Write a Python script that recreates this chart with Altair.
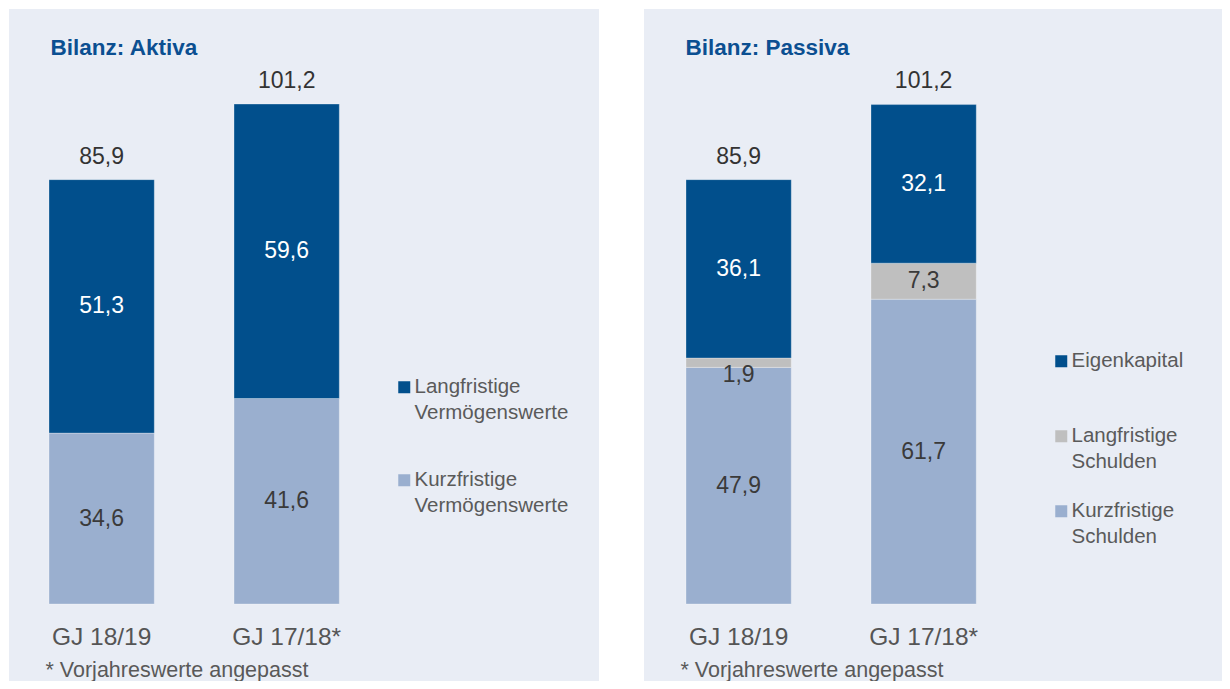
import altair as alt
import pandas as pd

# ---------------- data ----------------
years = ["GJ 18/19", "GJ 17/18*"]

aktiva_series = ["Langfristige Vermögenswerte", "Kurzfristige Vermögenswerte"]
aktiva_lang = [51.3, 59.6]
aktiva_kurz = [34.6, 41.6]
aktiva_total = [85.9, 101.2]

passiva_series = ["Eigenkapital", "Langfristige Schulden", "Kurzfristige Schulden"]
passiva_eigen = [36.1, 32.1]
passiva_lang = [1.9, 7.3]
passiva_kurz = [47.9, 61.7]
passiva_total = [85.9, 101.2]

footnote = "* Vorjahreswerte angepasst"

# ---------------- style ----------------
DARK = "#014f8c"
LIGHT = "#9aafcf"
GREY = "#bfbfbf"
BG = "#e9edf5"
TITLE_C = "#0b4f91"
FONT = "Liberation Sans"
H = 672  # plot height of each panel


def long_table(series, columns):
    rows = []
    n = len(series)
    for si, (name, vals) in enumerate(zip(series, columns)):
        for yr, v in zip(years, vals):
            rows.append({"year": yr, "series": name, "value": v, "stack_idx": n - 1 - si})
    return pd.DataFrame(rows)


def panel(title, series, columns, totals, colors, dark_series, width, pad_outer, align,
          legend_x, legend_y, row_pad):
    df = long_table(series, columns)
    tot = pd.DataFrame({"year": years, "total": totals})

    xscale = alt.Scale(domain=years, paddingInner=0.431, paddingOuter=pad_outer, align=align)
    yscale = alt.Scale(domain=[-15.59, 120.45], nice=False, zero=False)

    x_axis = alt.Axis(title=footnote, orient="bottom", offset=-58,
                      domain=False, ticks=False, grid=False,
                      labelAngle=0, labelPadding=2, labelFontSize=24.5,
                      labelColor="#555555", labelFont=FONT,
                      titleFont=FONT, titleFontSize=21.5, titleFontWeight="normal",
                      titleColor="#595959", titleAnchor="start", titleAlign="left",
                      titleBaseline="alphabetic", titleX=36, titleY=53.5, zindex=1)
    y_axis = alt.Axis(title=title, labels=False, ticks=False, domain=False,
                      grid=False, titleAngle=0, titleX=41, titleY=45.5,
                      titleAlign="left", titleBaseline="alphabetic",
                      titleFont=FONT, titleFontSize=22.5, titleFontWeight="bold",
                      titleColor=TITLE_C, zindex=1)

    base = alt.Chart(df).transform_stack(
        stack="value", groupby=["year"], as_=["y0", "y1"],
        sort=[alt.SortField("stack_idx", order="ascending")],
    ).transform_calculate(
        mid="(datum.y0 + datum.y1) / 2",
        txt="replace(format(datum.value, '.1f'), '.', ',')",
        dark="indexof(" + str(dark_series) + ", datum.series) >= 0",
    )

    bars = base.mark_bar(stroke="white", strokeWidth=0.8, strokeOpacity=0.35).encode(
        x=alt.X("year:N", scale=xscale, sort=years, axis=x_axis),
        y=alt.Y("y0:Q", scale=yscale, axis=y_axis),
        y2="y1:Q",
        color=alt.Color("series:N",
                        scale=alt.Scale(domain=series, range=colors),
                        legend=alt.Legend(orient="none", legendX=legend_x, legendY=legend_y,
                                          title=None, symbolType="square", symbolSize=144,
                                          symbolStrokeWidth=0, labelFontSize=20.5,
                                          labelFont=FONT, labelColor="#5a5a5a",
                                          labelExpr="split(datum.label, ' ')",
                                          labelBaseline="middle", labelOffset=0,
                                          labelLimit=400, rowPadding=row_pad,
                                          gridAlign="all", padding=0)),
        order=alt.Order("stack_idx:Q", sort="ascending"),
    )

    seg_text = base.transform_filter("datum.value >= 3").mark_text(
        font=FONT, fontSize=23, baseline="middle", align="center"
    ).encode(
        x=alt.X("year:N", scale=xscale, sort=years, axis=x_axis),
        y=alt.Y("mid:Q", scale=yscale, axis=y_axis),
        text="txt:N",
        color=alt.condition("datum.dark", alt.value("white"), alt.value("#3a3a3a")),
    )

    small_text = base.transform_filter("datum.value < 3").mark_text(
        font=FONT, fontSize=23, baseline="middle", align="center", dy=12, color="#3a3a3a"
    ).encode(
        x=alt.X("year:N", scale=xscale, sort=years, axis=x_axis),
        y=alt.Y("mid:Q", scale=yscale, axis=y_axis),
        text="txt:N",
    )

    tot_text = alt.Chart(tot).transform_calculate(
        txt="replace(format(datum.total, '.1f'), '.', ',')"
    ).mark_text(
        font=FONT, fontSize=23, baseline="alphabetic", align="center", dy=-16, color="#333333"
    ).encode(
        x=alt.X("year:N", scale=xscale, sort=years, axis=x_axis),
        y=alt.Y("total:Q", scale=yscale, axis=y_axis),
        text="txt:N",
    )

    return alt.layer(bars, seg_text, small_text, tot_text).properties(width=width, height=H)


left = panel("Bilanz: Aktiva", aktiva_series, [aktiva_lang, aktiva_kurz], aktiva_total,
             [DARK, LIGHT], aktiva_series[:1], 590, 0.81, 0.1335, 385, 368, 46)
right = panel("Bilanz: Passiva", passiva_series, [passiva_eigen, passiva_lang, passiva_kurz],
              passiva_total, [DARK, GREY, LIGHT], passiva_series[:1], 578, 0.7777, 0.146,
              407, 342, 28)

chart = alt.hconcat(left, right, spacing=45).resolve_scale(
    color="independent", x="independent", y="independent"
).resolve_legend(color="independent").properties(
    padding={"left": 1, "top": 1, "right": 0, "bottom": 0},
    background="white",
).configure(
    font=FONT,
    view=alt.ViewConfig(fill=BG, strokeWidth=0),
    style={"guide-label": {"lineHeight": 26}},
)

chart.save("out.html", embed_options={"renderer": "svg", "actions": False})
